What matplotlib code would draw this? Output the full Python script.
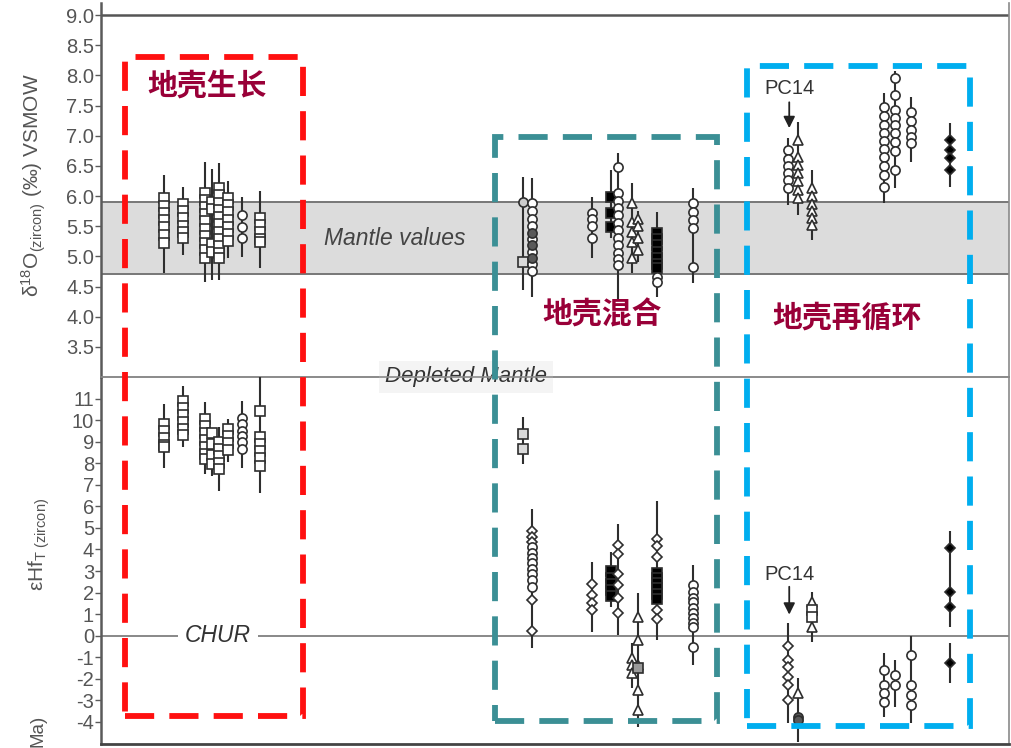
import numpy as np
import matplotlib
matplotlib.use("Agg")
import matplotlib.pyplot as plt
from matplotlib.patches import Rectangle

plt.rcParams["font.family"] = ["Liberation Sans", "DejaVu Sans"]
plt.rcParams["mathtext.fontset"] = "custom"
plt.rcParams["mathtext.rm"] = "Liberation Sans"
plt.rcParams["mathtext.it"] = "Liberation Sans:italic"
plt.rcParams["axes.unicode_minus"] = False

nan = np.nan

# ---------------- δ18O (zircon) per sample ----------------
o_x = [6.9, 9.0, 11.45, 12.2, 13.0, 14.0, 15.5, 17.5,
       46.5, 46.5, 47.5, 47.5, 54.1, 56.2, 56.9, 58.5, 59.1, 61.2, 61.2, 65.2,
       75.7, 76.8, 78.3, 86.2, 87.4, 89.2, 93.5]
o_marker = ["s", "s", "s", "s", "s", "s", "o", "s",
            "o", "s", "o", "o", "o", "s", "o", "^", "^", "s", "o", "o",
            "o", "^", "^", "o", "o", "o", "D"]
o_fill = ["w", "w", "w", "w", "w", "w", "w", "w",
          "0.8", "0.85", "w", "0.35", "w", "k", "w", "w", "w", "k", "w", "w",
          "w", "w", "w", "w", "w", "w", "k"]
o_lo = [4.72, 5.02, 4.58, 4.60, 4.60, 4.97, 4.99, 4.80,
        4.45, nan, 4.33, nan, 4.98, 5.30, 4.28, 4.72, 4.90, 4.33, nan, 4.55,
        5.85, 5.68, 5.27, 5.88, 6.13, 6.56, 6.15]
o_hi = [6.35, 6.15, 6.56, 6.45, 6.55, 6.25, 5.98, 6.08,
        6.32, nan, 6.30, nan, 5.98, 6.43, 6.72, 6.21, 5.75, 5.73, nan, 6.13,
        6.96, 7.23, 6.43, 7.70, 8.08, 7.64, 7.21]
o_vals = [
    [5.96, 5.84, 5.72, 5.60, 5.48, 5.36, 5.22],
    [5.87, 5.75, 5.63, 5.51, 5.40, 5.30],
    [6.05, 5.93, 5.82, 5.70, 5.58, 5.46, 5.34, 5.22, 5.10, 4.98],
    [5.90, 5.78, 5.20, 5.08],
    [6.13, 6.01, 5.89, 5.77, 5.65, 5.53, 5.41, 5.29, 5.17, 5.05, 4.97],
    [5.97, 5.85, 5.73, 5.61, 5.49, 5.37, 5.25],
    [5.68, 5.48, 5.30],
    [5.64, 5.52, 5.40, 5.28, 5.23],
    [5.90],
    [4.90],
    [5.88, 5.75, 5.62, 5.50, 5.28, 5.08, 4.88, 4.75],
    [5.38, 5.18, 4.98],
    [5.72, 5.62, 5.50, 5.30],
    [5.98, 5.72, 5.48],
    [6.48, 6.05, 5.92, 5.80, 5.68, 5.56, 5.44, 5.30, 5.18, 5.06, 4.95, 4.85],
    [5.88, 5.57, 5.40, 5.24, 4.97],
    [5.62, 5.50, 5.30, 5.10],
    [5.38, 5.28, 5.18, 5.08, 4.98, 4.88, 4.80],
    [4.66, 4.58],
    [5.88, 5.73, 5.60, 5.47, 4.82],
    [6.76, 6.62, 6.50, 6.38, 6.26, 6.13],
    [6.93, 6.65, 6.52, 6.38, 6.25, 6.10, 5.97],
    [6.13, 6.00, 5.87, 5.75, 5.63, 5.52],
    [7.47, 7.32, 7.18, 7.05, 6.92, 6.78, 6.65, 6.50, 6.35, 6.15],
    [7.95, 7.67, 7.43, 7.30, 7.18, 7.05, 6.90, 6.75, 6.43],
    [7.40, 7.25, 7.10, 6.98, 6.88],
    [6.93, 6.76, 6.63, 6.43],
]

# ---------------- εHf(T) (zircon) per sample ----------------
h_x = [6.9, 9.0, 11.45, 12.2, 13.0, 14.0, 15.5, 17.5,
       46.5, 47.5, 47.5, 54.1, 56.2, 56.9, 58.5, 59.1, 59.1, 61.2, 61.2, 65.2,
       75.7, 76.8, 76.8, 78.3, 78.3, 86.2, 87.4, 89.2, 93.5, 93.5]
h_marker = ["s", "s", "s", "s", "s", "s", "o", "s",
            "s", "D", "o", "D", "s", "D", "^", "^", "s", "D", "s", "o",
            "D", "^", "o", "^", "s", "o", "o", "o", "D", "D"]
h_fill = ["w", "w", "w", "w", "w", "w", "w", "w",
          "0.85", "w", "w", "w", "k", "w", "w", "w", "0.6", "w", "k", "w",
          "w", "w", "0.35", "w", "w", "w", "w", "w", "k", "k"]
h_lo = [7.80, 8.75, 7.50, 7.40, 6.70, 8.05, 7.80, 6.60,
        7.95, -0.56, nan, 0.19, 1.35, 0.05, -2.42, -4.23, nan, -0.19, nan, -1.35,
        -4.05, -4.93, nan, -0.28, nan, -3.77, -3.30, -4.05, 0.42, -2.19]
h_hi = [10.74, 11.60, 10.85, 9.60, 9.67, 10.05, 10.88, 12.00,
        10.14, 5.86, nan, 3.44, 3.86, 5.16, -0.33, 2.00, nan, 6.23, nan, 3.30,
        0.60, -1.95, nan, 2.05, nan, -0.79, -1.12, 0.00, 4.84, -0.33]
h_vals = [
    [9.83, 9.50, 9.17, 8.84, 8.73],
    [10.87, 10.55, 10.22, 9.90, 9.58, 9.33],
    [10.07, 9.75, 9.42, 9.10, 8.77, 8.45, 8.18],
    [9.40, 8.90, 8.40, 7.95],
    [8.97, 8.65, 8.32, 8.00, 7.73],
    [9.57, 9.25, 8.93, 8.63],
    [10.10, 9.80, 9.50, 9.25, 9.00, 8.65],
    [10.40, 9.20, 8.88, 8.55, 8.22, 7.85],
    [9.35, 8.65],
    [4.84, 4.60, 4.35, 1.67, 0.23],
    [4.10, 3.85, 3.60, 3.35, 3.10, 2.85, 2.60, 2.28],
    [2.42, 1.90, 1.53, 1.20],
    [3.00, 2.70, 2.40, 2.10, 1.85],
    [4.23, 3.77, 2.84, 2.37, 1.77, 1.07],
    [-1.02, -1.35, -1.72],
    [0.88, -0.19, -1.35, -2.51, -3.44],
    [-1.50],
    [4.47, 4.14, 3.67, 1.21, 0.79],
    [2.93, 2.70, 2.45, 2.20, 1.95, 1.70],
    [2.37, 2.05, 1.77, 1.55, 1.30, 1.05, 0.84, 0.60, 0.42, -0.51],
    [-0.47, -1.12, -1.44, -1.90, -2.28, -2.98],
    [-2.65],
    [-3.77, -3.90],
    [1.58, 0.42],
    [1.21, 0.88],
    [-1.58, -2.28, -2.65, -3.07],
    [-1.81, -2.28],
    [-0.88, -2.28, -2.74, -3.20],
    [4.09, 2.05, 1.35],
    [-1.26],
]

mantle_band = (4.7, 5.9)
o_ticks = [3.5, 4.0, 4.5, 5.0, 5.5, 6.0, 6.5, 7.0, 7.5, 8.0, 8.5, 9.0]
h_ticks = list(range(-4, 12))
pc14_x = 75.8

groups = ["地壳生长", "地壳混合", "地壳再循环"]
group_colors = ["#ff1010", "#3b8f95", "#00aeef"]

marker_size = {"s": 7.6, "o": 6.6, "D": 5.6, "^": 7.0}
ink = "#2e2e2e"
axis_grey = "#5a5a5a"

fig = plt.figure(figsize=(10.12, 7.48), dpi=100)
ax_o = fig.add_axes([0.0998, 0.496, 0.8972, 0.50])
ax_h = fig.add_axes([0.0998, 0.006, 0.8972, 0.490])


def draw_columns(ax, xs, marks, fills, lows, highs, values):
    for x, m, f, lo, hi, vals in zip(xs, marks, fills, lows, highs, values):
        if not (np.isnan(lo) or np.isnan(hi)):
            ax.plot([x, x], [lo, hi], color=ink, lw=1.5, zorder=3,
                    solid_capstyle="butt")
        ax.plot([x] * len(vals), vals, linestyle="none", marker=m,
                markersize=marker_size[m], markerfacecolor=f,
                markeredgecolor=ink, markeredgewidth=1.2, zorder=4)


for ax in (ax_o, ax_h):
    ax.set_xlim(0, 100)
    ax.set_xticks([])
    ax.set_facecolor("none")
    for s in ("top", "bottom", "right"):
        ax.spines[s].set_color("#8a8a8a")
        ax.spines[s].set_linewidth(1.2)
    ax.spines["left"].set_color(axis_grey)
    ax.spines["left"].set_linewidth(1.8)
    ax.tick_params(axis="y", direction="out", length=4, width=1.0,
                   color=axis_grey, labelcolor="#555555", labelsize=14.5, pad=1)

# oxygen isotope panel
ax_o.set_ylim(3.0, 9.2)
ax_o.spines["top"].set_visible(False)
ax_o.axhline(9.0, color="#555555", lw=1.8, zorder=2)
ax_o.axhspan(*mantle_band, facecolor="#dcdcdc", edgecolor="none", zorder=0)
for yb in mantle_band:
    ax_o.axhline(yb, color="#777777", lw=1.4, zorder=1)
ax_o.set_yticks(o_ticks)
ax_o.set_yticklabels([f"{t:.1f}" for t in o_ticks])
draw_columns(ax_o, o_x, o_marker, o_fill, o_lo, o_hi, o_vals)
ax_o.text(32.4, 5.29, "Mantle values", style="italic", fontsize=16.5,
          color="#444444", ha="center", va="center", zorder=5)
ax_o.text(40.2, 3.0, "Depleted Mantle", style="italic", fontsize=16,
          color="#333333", ha="center", va="center", zorder=6, clip_on=False,
          bbox=dict(boxstyle="square,pad=0.25", facecolor="#f4f4f4",
                    edgecolor="none"))
ax_o.annotate("", xy=(pc14_x, 7.08), xytext=(pc14_x, 7.6),
              arrowprops=dict(arrowstyle="-|>", color="#222222", lw=1.3,
                              mutation_scale=17), zorder=5)
ax_o.text(pc14_x, 7.78, "PC14", fontsize=14.5, color="#333333",
          ha="center", va="center")

# hafnium isotope panel
ax_h.set_ylim(-5, 12)
ax_h.spines["bottom"].set_color("#444444")
ax_h.spines["bottom"].set_linewidth(2.0)
ax_h.axhline(0, color="#888888", lw=1.4, zorder=1)
ax_h.set_yticks(h_ticks)
draw_columns(ax_h, h_x, h_marker, h_fill, h_lo, h_hi, h_vals)
ax_h.text(12.9, 0, "CHUR", style="italic", fontsize=16.5, color="#333333",
          ha="center", va="center", zorder=5,
          bbox=dict(boxstyle="square,pad=0.3", facecolor="white",
                    edgecolor="none"))
ax_h.annotate("", xy=(pc14_x, 0.85), xytext=(pc14_x, 2.4),
              arrowprops=dict(arrowstyle="-|>", color="#222222", lw=1.3,
                              mutation_scale=17), zorder=5)
ax_h.text(pc14_x, 2.85, "PC14", fontsize=14.5, color="#333333",
          ha="center", va="center")

# axis titles
fig.text(0.033, 0.752, "δ$^{\\mathregular{18}}$O$_{\\mathregular{(zircon)}}$ (‰) VSMOW",
         rotation=90, fontsize=15, color="#555555", ha="center", va="center")
fig.text(0.039, 0.272, "εHf$_{\\mathregular{T\\ (zircon)}}$",
         rotation=90, fontsize=15, color="#555555", ha="center", va="center")
fig.text(0.038, 0.044, "Ma)", rotation=90, fontsize=13.5, color="#555555",
         ha="center", va="top")

# dashed group outlines and their labels
boxes = [(0.1235, 0.0428, 0.1759, 0.881),
         (0.4891, 0.0361, 0.2194, 0.7807),
         (0.7381, 0.0294, 0.2204, 0.8824)]
label_pos = [(0.2045, 0.886), (0.595, 0.579), (0.837, 0.575)]
for (x0, y0, w, h), col, name, (tx, ty) in zip(boxes, group_colors, groups,
                                                label_pos):
    fig.add_artist(Rectangle((x0, y0), w, h, transform=fig.transFigure,
                             fill=False, edgecolor=col, lw=4.2,
                             linestyle=(0, (5.0, 2.6)), zorder=10))
    fig.text(tx, ty, name, family=["Noto Sans CJK SC", "DejaVu Sans"],
             fontsize=21.5, fontweight="bold", color="#990038",
             ha="center", va="center", zorder=11)

fig.savefig("out.png", dpi=100)
